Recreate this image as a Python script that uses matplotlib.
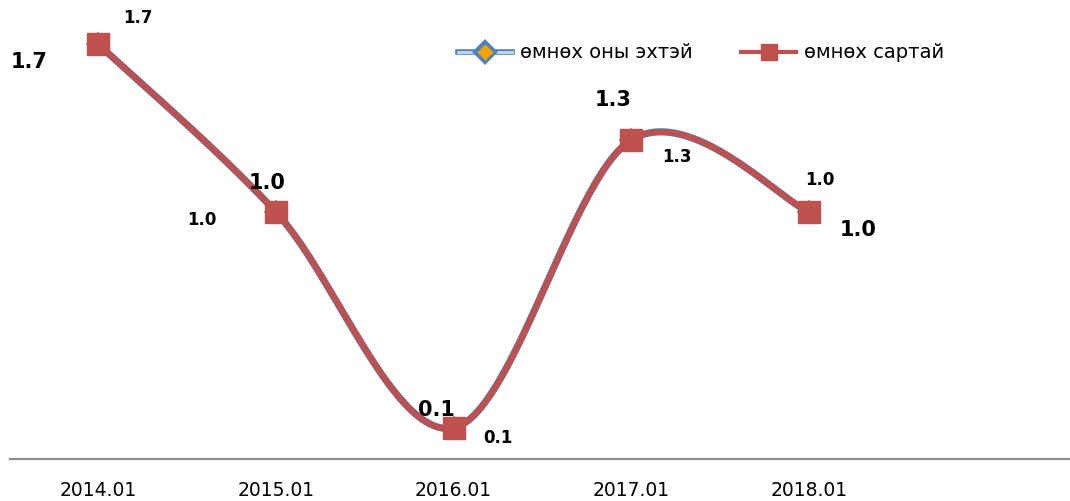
import matplotlib.pyplot as plt
import matplotlib.patheffects as pe
import numpy as np

# inflation, two bases
periods = ['2014.01', '2015.01', '2016.01', '2017.01', '2018.01']
yoy = [1.7, 1.0, 0.1, 1.3, 1.0]   # өмнөх оны эхтэй
mom = [1.7, 1.0, 0.1, 1.3, 1.0]   # өмнөх сартай

blue = '#4F81BD'
red = '#C0504D'


def smooth(xs, ys, n=60):
    # bezier segments with catmull-rom style control points
    p = np.column_stack((xs, ys)).astype(float)
    ext = np.vstack((p[0], p, p[-1]))
    out = []
    t = np.linspace(0, 1, n)[:, None]
    for i in range(len(p) - 1):
        p0, p3 = ext[i + 1], ext[i + 2]
        c1 = p0 + (ext[i + 2] - ext[i]) / 6
        c2 = p3 - (ext[i + 3] - ext[i + 1]) / 6
        seg = ((1 - t) ** 3) * p0 + 3 * ((1 - t) ** 2) * t * c1 \
            + 3 * (1 - t) * t ** 2 * c2 + t ** 3 * p3
        out.append(seg)
    s = np.vstack(out)
    return s[:, 0], s[:, 1]


x = np.arange(len(periods))

fig = plt.figure(figsize=(10.7, 5.01), dpi=100)
ax = fig.add_axes([10 / 1070, 42 / 501, 1060 / 1070, 459 / 501])

sx, sy = smooth(x, yoy)
ax.plot(sx, sy, color=blue, lw=5.2, solid_capstyle='round')
ax.plot(x, yoy, ls='none', marker='D', ms=11, mfc='#F4A300', mec=blue, mew=1.2)
sx, sy = smooth(x, mom)
ax.plot(sx, sy, color=red, lw=4.2, solid_capstyle='round')
ax.plot(x, mom, ls='none', marker='s', ms=16, mfc=red, mec=red)

# data labels
small_off = [(40, 26), (-74, -8), (44, -10), (46, -17), (11, 32)]
big_off = [(-69, -18), (-9, 29), (-17, 18), (-18, 40), (49, -18)]
for i in range(len(periods)):
    ax.annotate(f'{yoy[i]:.1f}', (x[i], yoy[i]), xytext=small_off[i],
                textcoords='offset pixels', ha='center', va='center',
                fontsize=12, fontweight='bold')
    ax.annotate(f'{mom[i]:.1f}', (x[i], mom[i]), xytext=big_off[i],
                textcoords='offset pixels', ha='center', va='center',
                fontsize=15, fontweight='bold')

ax.set_xlim(-0.495, 5.468)
ax.set_ylim(-0.03, 1.883)
ax.set_xticks(x)
ax.set_xticklabels(periods, fontsize=13.5)
ax.tick_params(axis='x', length=0, pad=16)
ax.set_yticks([])
for s in ['top', 'right', 'left']:
    ax.spines[s].set_visible(False)
ax.spines['bottom'].set_color('#8C8C8C')
ax.spines['bottom'].set_linewidth(1.6)

h1, = ax.plot([], [], color='#C6D9F1', lw=2, marker='D', ms=9,
              mfc='#F4A300', mec=blue,
              path_effects=[pe.Stroke(linewidth=4, foreground=blue), pe.Normal()])
h2, = ax.plot([], [], color=red, lw=3, marker='s', ms=11, mfc=red, mec=red)
fig.legend([h1, h2], ['өмнөх оны эхтэй', 'өмнөх сартай'], ncol=2,
           loc='center left', bbox_to_anchor=(458 / 1070, 1 - 53 / 501),
           frameon=False, fontsize=14, handlelength=2.8, handletextpad=0.4,
           columnspacing=2.5, borderpad=0, borderaxespad=0)

fig.savefig('out.png', dpi=100)
